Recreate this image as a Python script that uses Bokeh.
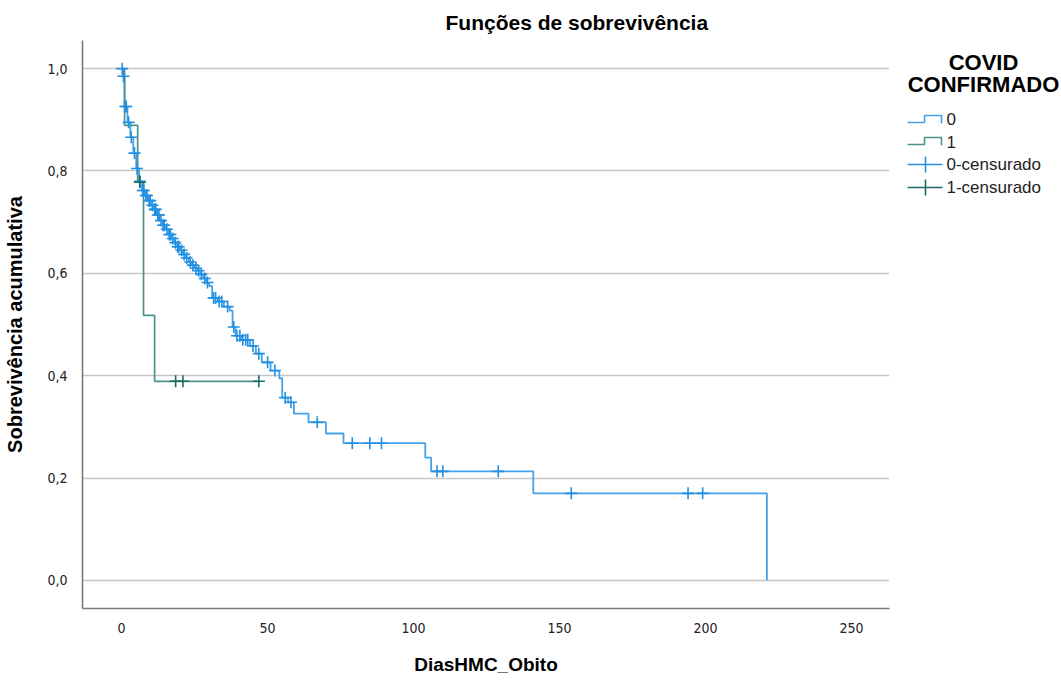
import numpy as np
from bokeh.plotting import figure
from bokeh.models import Range1d, FixedTicker, CustomJSTickFormatter
from bokeh.layouts import row
from bokeh.embed import file_html
from bokeh.resources import INLINE
from bokeh.core.properties import value

# Kaplan-Meier survival steps (time in days, cumulative survival after the drop)
group0_times = [0, 0.5, 1, 2, 3, 4, 5, 6, 7, 8, 9, 10, 11, 12, 13, 14, 15, 16, 17,
                18, 19, 20, 21, 22, 23, 24, 25, 26, 27, 28, 29, 30, 31, 33, 35, 37,
                38, 39, 41, 44, 46, 48, 51, 54, 55, 57, 59, 64, 70, 76, 104, 106,
                141, 221]
group0_surv = [1.0, 0.985, 0.926, 0.895, 0.866, 0.835, 0.805, 0.78, 0.762, 0.752,
               0.742, 0.733, 0.725, 0.714, 0.703, 0.694, 0.686, 0.676, 0.668, 0.66,
               0.652, 0.645, 0.637, 0.63, 0.622, 0.616, 0.61, 0.605, 0.598, 0.59,
               0.582, 0.575, 0.552, 0.545, 0.535, 0.527, 0.495, 0.478, 0.47, 0.458,
               0.443, 0.426, 0.41, 0.395, 0.357, 0.348, 0.326, 0.309, 0.287, 0.268,
               0.24, 0.213, 0.17, 0.0]
group0_censored = [0.2, 0.6, 1.3, 1.6, 2.4, 3.3, 4.4, 5.3, 6.3, 7.2, 7.6, 8.3, 8.7,
                   9.4, 9.8, 10.5, 11.3, 11.7, 12.4, 12.8, 13.5, 14.2, 14.6, 15.5,
                   16.3, 16.7, 17.5, 18.4, 19.2, 19.6, 20.5, 21.4, 22.3, 23.5, 24.4,
                   25.5, 26.4, 27.3, 28.5, 29.4, 31.5, 32.2, 33.4, 34.3, 36.3, 38.4,
                   39.5, 40.5, 41.5, 42.5, 43.2, 45, 47, 50, 52.5, 56, 58, 67, 79,
                   85, 89, 108, 110, 129, 154, 194, 199]

group1_times = [0, 1, 5.5, 7.5, 11.3, 47]
group1_surv = [1.0, 0.889, 0.778, 0.518, 0.389, 0.389]
group1_censored = [6.2, 18.5, 21, 47]

x_ticks = [0, 50, 100, 150, 200, 250]
y_ticks = [0.0, 0.2, 0.4, 0.6, 0.8, 1.0]

BLUE_LINE = "#45a2ea"
BLUE_MARK = "#2290e2"
TEAL_LINE = "#4b918c"
TEAL_MARK = "#1e6a65"
FONT = "Liberation Sans"
TICK_FONT = "DejaVu Sans Condensed"

FRAME_TOP, FRAME_BOTTOM = 40, 608


def surv_at(times, surv, ts):
    idx = np.searchsorted(np.asarray(times), np.asarray(ts), side="right") - 1
    return [surv[i] for i in idx]


p = figure(width=900, height=684,
           x_range=Range1d(-13.4, 263), y_range=Range1d(-0.055, 1.055),
           output_backend="svg", toolbar_location=None,
           min_border_left=82, min_border_right=11,
           min_border_top=FRAME_TOP, min_border_bottom=684 - FRAME_BOTTOM)

p.title.text = "Funções de sobrevivência"
p.title.text_font = FONT
p.title.text_font_size = "21px"
p.title.text_font_style = "bold"
p.title.text_color = "#000000"
p.title.align = "left"
p.title.offset = 363
p.title.standoff = 14

p.outline_line_color = None
p.xgrid.visible = False
p.ygrid.ticker = FixedTicker(ticks=y_ticks)
p.ygrid.grid_line_color = "#c6c6c6"
p.ygrid.grid_line_width = 1.6

p.xaxis.ticker = FixedTicker(ticks=x_ticks)
p.yaxis.ticker = FixedTicker(ticks=y_ticks)
p.yaxis.formatter = CustomJSTickFormatter(code="return tick.toFixed(1).replace('.', ',');")
for ax in (p.xaxis, p.yaxis):
    ax.axis_line_color = "#7a7a7a"
    ax.axis_line_width = 1.6
    ax.major_tick_line_color = None
    ax.minor_tick_line_color = None
    ax.major_label_text_font = TICK_FONT
    ax.major_label_text_font_size = "14px"
    ax.major_label_text_color = "#222222"
    ax.axis_label_text_font = FONT
    ax.axis_label_text_font_style = "bold"
    ax.axis_label_text_font_size = "19px"
    ax.axis_label_text_color = "#000000"

p.xaxis.axis_label = "DiasHMC_Obito"
p.xaxis.major_label_standoff = 8
p.xaxis.axis_label_standoff = 18
p.yaxis.axis_label = "Sobrevivência acumulativa"
p.yaxis.axis_label_text_font_size = "20px"
p.yaxis.major_label_standoff = 9
p.yaxis.axis_label_standoff = 18

# survival curves
p.step(group0_times, group0_surv, mode="after", line_color=BLUE_LINE, line_width=1.8)
p.step(group1_times, group1_surv, mode="after", line_color=TEAL_LINE, line_width=1.7)

# censored observations
p.scatter(group0_censored, surv_at(group0_times, group0_surv, group0_censored),
          marker="cross", size=12, line_color=BLUE_MARK, line_width=1.6)
p.scatter(group1_censored, surv_at(group1_times, group1_surv, group1_censored),
          marker="cross", size=12, line_color=TEAL_MARK, line_width=1.6)

# legend panel; its frame is aligned with the main frame, so the y range spans
# the same pixel rows (flipped so values read as page rows)
lg = figure(width=161, height=684, x_range=Range1d(900, 1061),
            y_range=Range1d(FRAME_BOTTOM, FRAME_TOP),
            output_backend="svg", toolbar_location=None,
            x_axis_location=None, y_axis_location=None,
            min_border=0, min_border_left=0, min_border_right=0,
            min_border_top=FRAME_TOP, min_border_bottom=684 - FRAME_BOTTOM)
lg.title.visible = False
lg.grid.visible = False
lg.outline_line_color = None

lg.text(x=[983, 983], y=[62, 84], text=["COVID", "CONFIRMADO"],
        text_align="center", text_baseline="middle", text_font=value(FONT),
        text_font_style="bold", text_font_size="22px", text_color="#000000")

step_x = [907, 924, 924, 941, 941]
for yc, col in ((119, BLUE_LINE), (141, TEAL_LINE)):
    lg.line(step_x, [yc + 3, yc + 3, yc - 4, yc - 4, yc + 4], line_color=col, line_width=1.6)
for yc, col in ((164, BLUE_MARK), (187, TEAL_MARK)):
    lg.line([907, 942], [yc, yc], line_color=col, line_width=1.6)
    lg.line([925, 925], [yc - 8, yc + 8], line_color=col, line_width=1.6)

lg.text(x=[946] * 4, y=[118, 141, 164, 187],
        text=["0", "1", "0-censurado", "1-censurado"],
        text_align="left", text_baseline="middle", text_font=value(FONT),
        text_font_size="17px", text_color="#222222")

layout = row(p, lg, spacing=0)
open("out.html", "w").write(file_html(layout, INLINE))
